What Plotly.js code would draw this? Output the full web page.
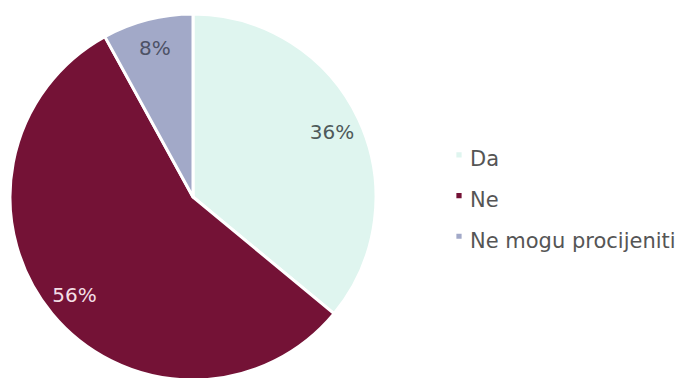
<!DOCTYPE html>
<html>
<head>
<meta charset="utf-8">
<script src="https://cdn.plot.ly/plotly-3.0.1.min.js"></script>
<style>
html,body{margin:0;padding:0;overflow:hidden;background:#fff;}
#chart{width:681px;height:390px;}
</style>
</head>
<body>
<div id="chart"></div>
<script>
const labels = ["Da", "Ne", "Ne mogu procijeniti"];
const values = [36, 56, 8];
const colors = ["#dff5ef", "#741236", "#a2a9c8"];
const textColors = ["#4e5a5a", "#f3dfe6", "#4d5266"];

const W = 681, H = 390;
const cx = 193, pieTop = 14, r = 183;
const dom = {x: [(cx - r) / W, (cx + r) / W], y: [1 - (pieTop + 2 * r) / H, 1 - pieTop / H]};

const data = [{
  type: "pie",
  labels: labels.map(l => '<span style="font-size:21px">' + l + '</span>'),
  values: values,
  sort: false,
  direction: "clockwise",
  rotation: 0,
  marker: {colors: colors, line: {color: "#ffffff", width: 3}},
  textinfo: "none",
  hoverinfo: "label+percent",
  domain: dom
}, {
  type: "pie",
  labels: labels,
  values: values,
  sort: false,
  direction: "clockwise",
  rotation: 0,
  hole: 0.68,
  showlegend: false,
  marker: {colors: ["rgba(0,0,0,0)", "rgba(0,0,0,0)", "rgba(0,0,0,0)"], line: {width: 0}},
  texttemplate: "%{value}%",
  textposition: "inside",
  insidetextorientation: "horizontal",
  textfont: {family: "DejaVu Sans, sans-serif", size: 20, color: textColors},
  hoverinfo: "skip",
  domain: dom
}];

const layout = {
  width: W, height: H,
  margin: {l: 0, r: 0, t: 0, b: 0},
  paper_bgcolor: "#ffffff",
  showlegend: true,
  legend: {
    x: 430 / W, y: 1 - 196 / H, xanchor: "left", yanchor: "middle",
    font: {family: "DejaVu Sans, sans-serif", size: 29, color: "#555555"},
    tracegroupgap: 0
  }
};

Plotly.newPlot("chart", data, layout, {displayModeBar: false, staticPlot: true}).then(gd => {
  gd.querySelectorAll(".legendpoints path").forEach(p => p.setAttribute("transform", "translate(29,0) scale(0.58)"));
});
</script>
</body>
</html>
